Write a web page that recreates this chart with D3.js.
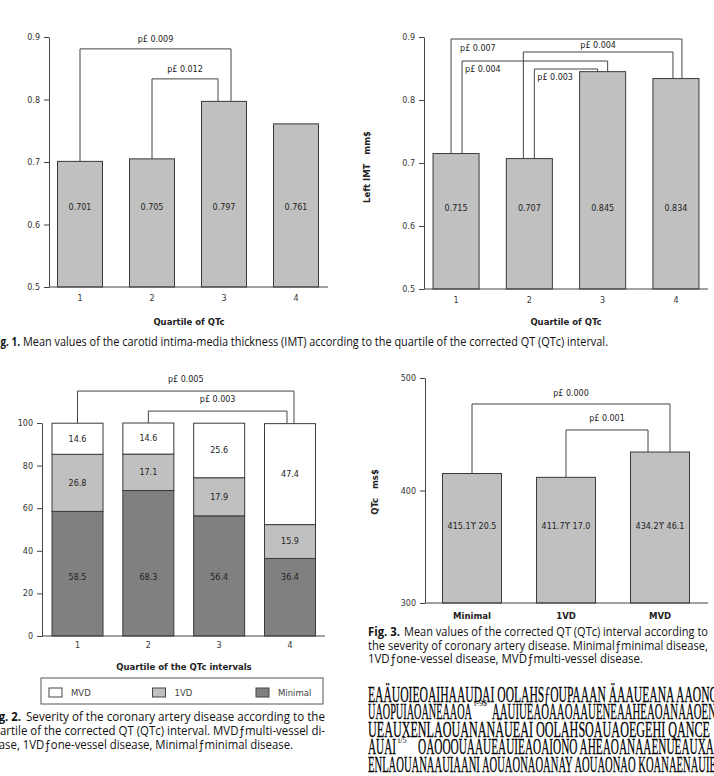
<!DOCTYPE html>
<meta charset="utf-8">
<style>
  body { margin: 0; background: #fff; }
  svg text { font-family: "DejaVu Sans", sans-serif; fill: #222; }
  .tick text { font-size: 8px; fill: #333; }
  .axis path, .axis line { stroke: #444; }
  .base { stroke: #444; stroke-width: 1; }
  .bar { stroke: #3a3a3a; stroke-width: 1; }
  .val { font-size: 8px; text-anchor: middle; }
  .bracket { fill: none; stroke: #444; stroke-width: 1; }
  .ptext { font-size: 8px; }
  .xlabel { font-size: 8.5px; font-weight: bold; text-anchor: middle; white-space: pre; }
  .boldtick .tick text { font-size: 8.5px; font-weight: bold; fill: #222; }
  .legend text { font-size: 8.5px; fill: #444; }
  .caption { font-family: "Open Sans", sans-serif; font-size: 12px; fill: #111; }
  .garble { font-family: "Liberation Serif", serif; font-size: 24px; fill: #000; stroke: #000; stroke-width: 0.3; }
  .sup { font-family: "Liberation Serif", serif; font-size: 8px; fill: #000; }
</style>
<body>
<svg width="714" height="776"></svg>
<script src="https://d3js.org/d3.v7.min.js"></script>
<script>

// values
var quartiles = ["1", "2", "3", "4"];
var imtMean = [0.701, 0.705, 0.797, 0.761];
var leftImtMean = [0.715, 0.707, 0.845, 0.834];
var imtTicks = [0.5, 0.6, 0.7, 0.8, 0.9];

var minimalPct = [58.5, 68.3, 56.4, 36.4];
var oneVdPct = [26.8, 17.1, 17.9, 15.9];
var mvdPct = [14.6, 14.6, 25.6, 47.4];
var pctTicks = [0, 20, 40, 60, 80, 100];

var severity = ["Minimal", "1VD", "MVD"];
var qtcMean = [415.1, 411.7, 434.2];
var qtcSd = [20.5, 17.0, 46.1];
var qtcTicks = [300, 400, 500];

// significance brackets: pairs of bars and p values
var fig1Pairs = [[0, 2], [1, 2]];
var fig1P = ["0.009", "0.012"];
var fig1bPairs = [[0, 3], [1, 3], [0, 2], [1, 2]];
var fig1bP = ["0.007", "0.004", "0.004", "0.003"];
var fig2Pairs = [[0, 3], [1, 3]];
var fig2P = ["0.005", "0.003"];
var fig3Pairs = [[0, 2], [1, 2]];
var fig3P = ["0.000", "0.001"];

var svg = d3.select("svg");

function yAxis(scale, xPos, ticks, fmt) {
  svg.append("g")
      .attr("class", "axis")
      .attr("transform", "translate(" + xPos + ",0)")
      .call(d3.axisLeft(scale).tickValues(ticks).tickFormat(fmt)
        .tickSize(5).tickSizeOuter(0).tickPadding(4));
}

function xAxis(x, yPos, x0, x1, pad, cls) {
  svg.append("line").attr("class", "base")
      .attr("x1", x0).attr("x2", x1).attr("y1", yPos).attr("y2", yPos);
  svg.append("g")
      .attr("class", "axis " + (cls || ""))
      .attr("transform", "translate(0," + yPos + ")")
      .call(d3.axisBottom(x).tickSize(0).tickPadding(pad))
      .call(function (g) { g.select(".domain").remove(); });
}

function bars(x, y, cats, vals, base, fill) {
  svg.append("g").selectAll("rect")
    .data(vals)
    .join("rect")
      .attr("class", "bar")
      .attr("fill", fill)
      .attr("x", function (d, i) { return x(cats[i]); })
      .attr("y", function (d) { return y(d); })
      .attr("width", x.bandwidth())
      .attr("height", function (d) { return y(base) - y(d); });
}

function valueLabels(x, y, cats, labels, at) {
  svg.append("g").selectAll("text")
    .data(labels)
    .join("text")
      .attr("class", "val")
      .attr("x", function (d, i) { return x(cats[i]) + x.bandwidth() / 2; })
      .attr("y", y(at))
      .attr("dy", "0.35em")
      .text(function (d) { return d; });
}

// L: level (data units), d1/d2 offsets from bar centres, text placement
function brackets(x, y, cats, tops, pairs, ps, layout) {
  pairs.forEach(function (pr, i) {
    var L = layout[i];
    var xa = x(cats[pr[0]]) + x.bandwidth() / 2 + L.d1;
    var xb = x(cats[pr[1]]) + x.bandwidth() / 2 + L.d2;
    var yl = y(L.level);
    svg.append("path")
        .attr("class", "bracket")
        .attr("d", "M" + xa + "," + y(tops[pr[0]]) + "V" + yl + "H" + xb + "V" + y(tops[pr[1]]));
    svg.append("text")
        .attr("class", "ptext")
        .attr("text-anchor", L.anchor)
        .attr("x", L.anchor == "middle" ? (xa + xb) / 2 : xa + L.tx)
        .attr("y", yl + L.ty)
        .text("p\u00a3 " + ps[i]);
  });
}

function xLabel(x, y, txt) {
  svg.append("text").attr("class", "xlabel").attr("x", x).attr("y", y).text(txt);
}

function yLabel(x, y, txt) {
  svg.append("text").attr("class", "xlabel")
      .attr("transform", "translate(" + x + "," + y + ") rotate(-90)")
      .attr("dy", "0.35em")
      .text(txt);
}

var f3 = d3.format(".3f"), f1 = d3.format(".1f");

// ---------- Fig. 1 left
var x1 = d3.scaleBand().domain(quartiles).range([44, 332]).paddingInner(0.375).paddingOuter(0.1875);
var y1 = d3.scaleLinear().domain([0.5, 0.9]).range([287, 37]);
yAxis(y1, 49, imtTicks, d3.format(".1f"));
bars(x1, y1, quartiles, imtMean, 0.5, "#c0c0c0");
xAxis(x1, 287, 49, 328, 8);
valueLabels(x1, y1, quartiles, imtMean.map(f3), 0.628);
brackets(x1, y1, quartiles, imtMean, fig1Pairs, fig1P, [
  { level: 0.881, d1: 0, d2: 7, anchor: "middle", ty: -7 },
  { level: 0.833, d1: 0, d2: -6, anchor: "middle", ty: -7 }
]);
xLabel(189, 325, "Quartile of QTc");

// ---------- Fig. 1 right
var x2 = d3.scaleBand().domain(quartiles).range([419.4, 712.6]).paddingInner(0.372).paddingOuter(0.186);
var y2 = d3.scaleLinear().domain([0.5, 0.9]).range([289, 37]);
yAxis(y2, 424, imtTicks, d3.format(".1f"));
bars(x2, y2, quartiles, leftImtMean, 0.5, "#c0c0c0");
xAxis(x2, 289, 424, 708, 8);
valueLabels(x2, y2, quartiles, leftImtMean.map(f3), 0.628);
brackets(x2, y2, quartiles, leftImtMean, fig1bPairs, fig1bP, [
  { level: 0.8968, d1: -5, d2: 6, anchor: "start", tx: 9, ty: 12 },
  { level: 0.8762, d1: -6, d2: -3, anchor: "middle", ty: -4 },
  { level: 0.8619, d1: 6, d2: 5, anchor: "start", tx: 3, ty: 11 },
  { level: 0.8492, d1: 5, d2: -5, anchor: "start", tx: 3, ty: 11 }
]);
xLabel(566, 325, "Quartile of QTc");
yLabel(367, 167, "Left IMT   mm$");

svg.append("text").attr("class", "caption").attr("font-weight", "bold")
    .attr("x", -8).attr("y", 346).attr("textLength", 28).attr("lengthAdjust", "spacingAndGlyphs")
    .text("Fig. 1.");
svg.append("text").attr("class", "caption")
    .attr("x", 23).attr("y", 346).attr("textLength", 585).attr("lengthAdjust", "spacingAndGlyphs")
    .text("Mean values of the carotid intima-media thickness (IMT) according to the quartile of the corrected QT (QTc) interval.");

// ---------- Fig. 2 stacked
var table = quartiles.map(function (q, i) {
  return { q: q, Minimal: minimalPct[i], "1VD": oneVdPct[i], MVD: mvdPct[i] };
});
var stackKeys = ["Minimal", "1VD", "MVD"];
var stackFill = { Minimal: "#808080", "1VD": "#c0c0c0", MVD: "#ffffff" };
var series = d3.stack().keys(stackKeys)(table);

var x3 = d3.scaleBand().domain(quartiles).range([42.1, 325.4]).paddingInner(0.28).paddingOuter(0.14);
var y3 = d3.scaleLinear().domain([0, 100]).range([636, 423]);
yAxis(y3, 42, pctTicks, d3.format("d"));

svg.append("g").selectAll("g")
  .data(series)
  .join("g")
    .attr("fill", function (s) { return stackFill[s.key]; })
  .selectAll("rect")
  .data(function (s) { return s; })
  .join("rect")
    .attr("class", "bar")
    .attr("x", function (d) { return x3(d.data.q); })
    .attr("y", function (d) { return y3(d[1]); })
    .attr("width", x3.bandwidth())
    .attr("height", function (d) { return y3(d[0]) - y3(d[1]); });

svg.append("g").selectAll("g")
  .data(series)
  .join("g")
  .selectAll("text")
  .data(function (s) { return s.map(function (d) { d.key = s.key; return d; }); })
  .join("text")
    .attr("class", "val")
    .attr("x", function (d) { return x3(d.data.q) + x3.bandwidth() / 2; })
    .attr("y", function (d) { return d.key == "Minimal" ? y3(27.7) : y3((d[0] + d[1]) / 2); })
    .attr("dy", "0.35em")
    .text(function (d) { return f1(d.data[d.key]); });

xAxis(x3, 636, 42, 325, 6);
brackets(x3, y3, quartiles, [100, 100, 100, 100], fig2Pairs, fig2P, [
  { level: 115.0, d1: 0, d2: 4, anchor: "middle", ty: -9 },
  { level: 105.6, d1: 0, d2: -3, anchor: "middle", ty: -9 }
]);
xLabel(184, 670, "Quartile of the QTc intervals");

var legend = svg.append("g").attr("class", "legend");
legend.append("rect").attr("x", 41).attr("y", 678).attr("width", 282).attr("height", 26)
    .attr("fill", "none").attr("stroke", "#555");
var legX = d3.scalePoint().domain(["MVD", "1VD", "Minimal"]).range([49, 256]);
legend.selectAll("g")
  .data(legX.domain())
  .join("g")
    .attr("transform", function (d) { return "translate(" + legX(d) + ",688)"; })
    .each(function (d) {
      var g = d3.select(this);
      g.append("rect").attr("width", 13).attr("height", 9)
          .attr("fill", stackFill[d]).attr("stroke", "#444");
      g.append("text").attr("x", 22).attr("y", 8).text(d);
    });

var cap2 = [
  { x: 26, w: 299, t: "Severity of the coronary artery disease according to the" },
  { x: -14, w: 339, t: "quartile of the corrected QT (QTc) interval. MVD\u0192multi-vessel di-" },
  { x: -13, w: 306, t: "sease, 1VD\u0192one-vessel disease, Minimal\u0192minimal disease." }
];
svg.append("text").attr("class", "caption").attr("font-weight", "bold")
    .attr("x", -11).attr("y", 721).attr("textLength", 32).attr("lengthAdjust", "spacingAndGlyphs")
    .text("Fig. 2.");
cap2.forEach(function (c, i) {
  svg.append("text").attr("class", "caption")
      .attr("x", c.x).attr("y", 721 + i * 14).attr("textLength", c.w).attr("lengthAdjust", "spacingAndGlyphs")
      .text(c.t);
});

// ---------- Fig. 3
var x4 = d3.scaleBand().domain(severity).range([425, 707]).paddingInner(0.372).paddingOuter(0.186);
var y4 = d3.scaleLinear().domain([300, 500]).range([603, 378]);
yAxis(y4, 425, qtcTicks, d3.format("d"));
bars(x4, y4, severity, qtcMean, 300, "#c0c0c0");
xAxis(x4, 603, 425, 708, 10, "boldtick");
valueLabels(x4, y4, severity, qtcMean.map(function (m, i) { return f1(m) + "\u03d2 " + f1(qtcSd[i]); }), 368);
brackets(x4, y4, severity, qtcMean, fig3Pairs, fig3P, [
  { level: 476.9, d1: 0, d2: 10, anchor: "middle", ty: -8 },
  { level: 453.8, d1: 0, d2: -12, anchor: "middle", ty: -9 }
]);
yLabel(375, 492, "QTc   ms$");

var cap3 = [
  { x: 404, w: 304, t: "Mean values of the corrected QT (QTc) interval according to" },
  { x: 368, w: 340, t: "the severity of coronary artery disease. Minimal\u0192minimal disease," },
  { x: 368, w: 275, t: "1VD\u0192one-vessel disease, MVD\u0192multi-vessel disease." }
];
svg.append("text").attr("class", "caption").attr("font-weight", "bold")
    .attr("x", 368).attr("y", 636).attr("textLength", 32).attr("lengthAdjust", "spacingAndGlyphs")
    .text("Fig. 3.");
cap3.forEach(function (c, i) {
  svg.append("text").attr("class", "caption")
      .attr("x", c.x).attr("y", 636 + i * 13.5).attr("textLength", c.w).attr("lengthAdjust", "spacingAndGlyphs")
      .text(c.t);
});

// ---------- garbled body text at the bottom right
var garble = [
  { x: 368, y: 702, w: 350, t: "EAÄUOIEOAIHAAUDAI  OOLAHSƒOUPAAAN ÄAAUEANA AAONO" },
  { x: 368, y: 719, w: 104, t: "UAOPUIAOANEAAOA" },
  { x: 492, y: 719, w: 224, t: "AAUIUEAOAAOAAUENEAAHEAOANAAOEN" },
  { x: 368, y: 737, w: 342, t: "UEAUXENLAOUANANÄUEAI  OOLAHSOAUAOEGEHI QANCE" },
  { x: 368, y: 754, w: 28, t: "AUAI" },
  { x: 418, y: 754, w: 296, t: "OAOOOUAAUEAUIEAOAIONO AHEAOANAAENUEAUXA" },
  { x: 368, y: 772, w: 348, t: "ENLAOUANAAUIAANI AOUAONAOANAY AOUAONAO KOANAENAUIE" }
];
svg.append("g").selectAll("text")
  .data(garble)
  .join("text")
    .attr("class", "garble")
    .attr("x", function (d) { return d.x; })
    .attr("y", function (d) { return d.y; })
    .attr("textLength", function (d) { return d.w; })
    .attr("lengthAdjust", "spacingAndGlyphs")
    .text(function (d) { return d.t; });
svg.append("text").attr("class", "sup").attr("x", 474).attr("y", 706).text("t-9$");
svg.append("text").attr("class", "sup").attr("x", 398).attr("y", 743).text("t/5");

</script>
</body>
